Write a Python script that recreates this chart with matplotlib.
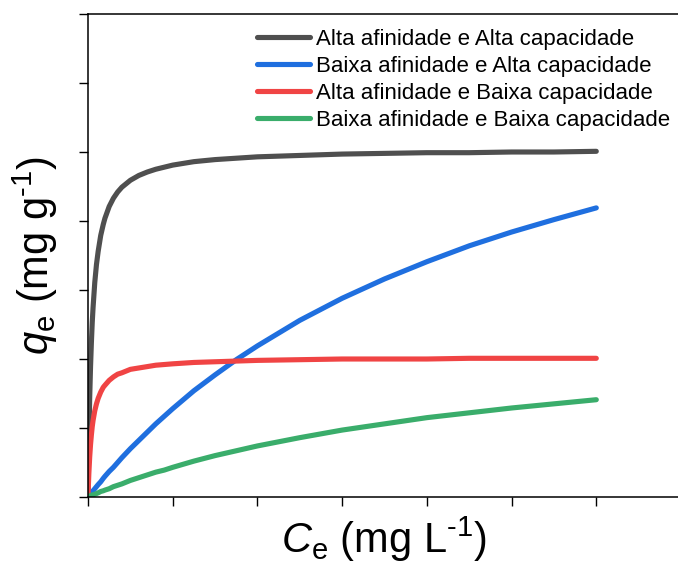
import numpy as np
import matplotlib.pyplot as plt

plt.rcParams['font.family'] = ['Liberation Sans', 'DejaVu Sans']
plt.rcParams['mathtext.fontset'] = 'custom'
plt.rcParams['mathtext.rm'] = 'Liberation Sans'
plt.rcParams['mathtext.it'] = 'Liberation Sans:italic'

# Ce values
ce = [0, 0.005, 0.01, 0.02, 0.03, 0.04, 0.05, 0.06, 0.08, 0.1, 0.12, 0.15, 0.18,
      0.2, 0.25, 0.3, 0.35, 0.4, 0.5, 0.6, 0.7, 0.8, 0.9, 1.0, 1.25, 1.5, 1.75,
      2.0, 2.5, 3.0, 3.5, 4.0, 4.5, 5.0, 5.5, 6.0]

# qe
alta_alta = [0, 0.46, 0.84, 1.44, 1.89, 2.24, 2.53, 2.75, 3.11, 3.37, 3.56, 3.79, 3.95,
             4.04, 4.21, 4.33, 4.42, 4.49, 4.59, 4.66, 4.71, 4.75, 4.78, 4.81, 4.86,
             4.89, 4.91, 4.93, 4.95, 4.97, 4.98, 4.99, 4.99, 5.00, 5.00, 5.01]
baixa_alta = [0, 0.01, 0.02, 0.03, 0.05, 0.06, 0.08, 0.09, 0.12, 0.15, 0.18, 0.22, 0.27,
              0.30, 0.37, 0.43, 0.50, 0.57, 0.70, 0.82, 0.94, 1.06, 1.17, 1.28, 1.54,
              1.77, 1.99, 2.19, 2.56, 2.88, 3.16, 3.41, 3.64, 3.84, 4.02, 4.19]
alta_baixa = [0, 0.18, 0.34, 0.58, 0.76, 0.90, 1.02, 1.11, 1.25, 1.35, 1.43, 1.52, 1.59,
              1.62, 1.69, 1.74, 1.78, 1.80, 1.85, 1.87, 1.89, 1.91, 1.92, 1.93, 1.95,
              1.96, 1.97, 1.98, 1.99, 2.00, 2.00, 2.00, 2.01, 2.01, 2.01, 2.01]
baixa_baixa = [0, 0.00, 0.01, 0.01, 0.02, 0.02, 0.03, 0.03, 0.04, 0.05, 0.06, 0.08, 0.09,
               0.10, 0.12, 0.15, 0.17, 0.19, 0.24, 0.28, 0.32, 0.36, 0.39, 0.43, 0.52,
               0.60, 0.67, 0.74, 0.86, 0.97, 1.06, 1.15, 1.22, 1.29, 1.35, 1.41]

labels = ['Alta afinidade e Alta capacidade',
          'Baixa afinidade e Alta capacidade',
          'Alta afinidade e Baixa capacidade',
          'Baixa afinidade e Baixa capacidade']
cores = ['#4f4f4f', '#1f6fdf', '#f04444', '#3aad6b']

fig = plt.figure(figsize=(6.78, 5.63), dpi=100)
ax = fig.add_axes([88/678, 66/563, 593/678, 483/563])

for y, lab, c in zip([alta_alta, baixa_alta, alta_baixa, baixa_baixa], labels, cores):
    ax.plot(ce, y, color=c, lw=3.7, label=lab, solid_capstyle='round',
            solid_joinstyle='round')

ax.set_xlim(0, 7)
ax.set_ylim(0, 7)
ax.set_xticks(np.arange(0, 8, 1))
ax.set_yticks(np.arange(0, 8, 1))
ax.set_xticklabels([])
ax.set_yticklabels([])
ax.tick_params(direction='out', length=6.5, width=1)
ax.spines['right'].set_visible(False)
for s in ['left', 'bottom', 'top']:
    ax.spines[s].set_linewidth(1.1)

ax.set_xlabel('$\\mathit{C}_\\mathrm{e}$ (mg L$^{\u2010 1}$)', fontsize=30, labelpad=3)
ax.set_ylabel('$\\mathit{q}_\\mathrm{e}$ (mg g$^{\u2010 1}$)', fontsize=30, labelpad=10)

ax.legend(loc='upper left', bbox_to_anchor=(257/678, 0.948),
          bbox_transform=fig.transFigure, frameon=False, fontsize=16,
          handlelength=2.4, handletextpad=0.27, labelspacing=0.27,
          borderpad=0, borderaxespad=0)

fig.savefig('out.png', dpi=100)
